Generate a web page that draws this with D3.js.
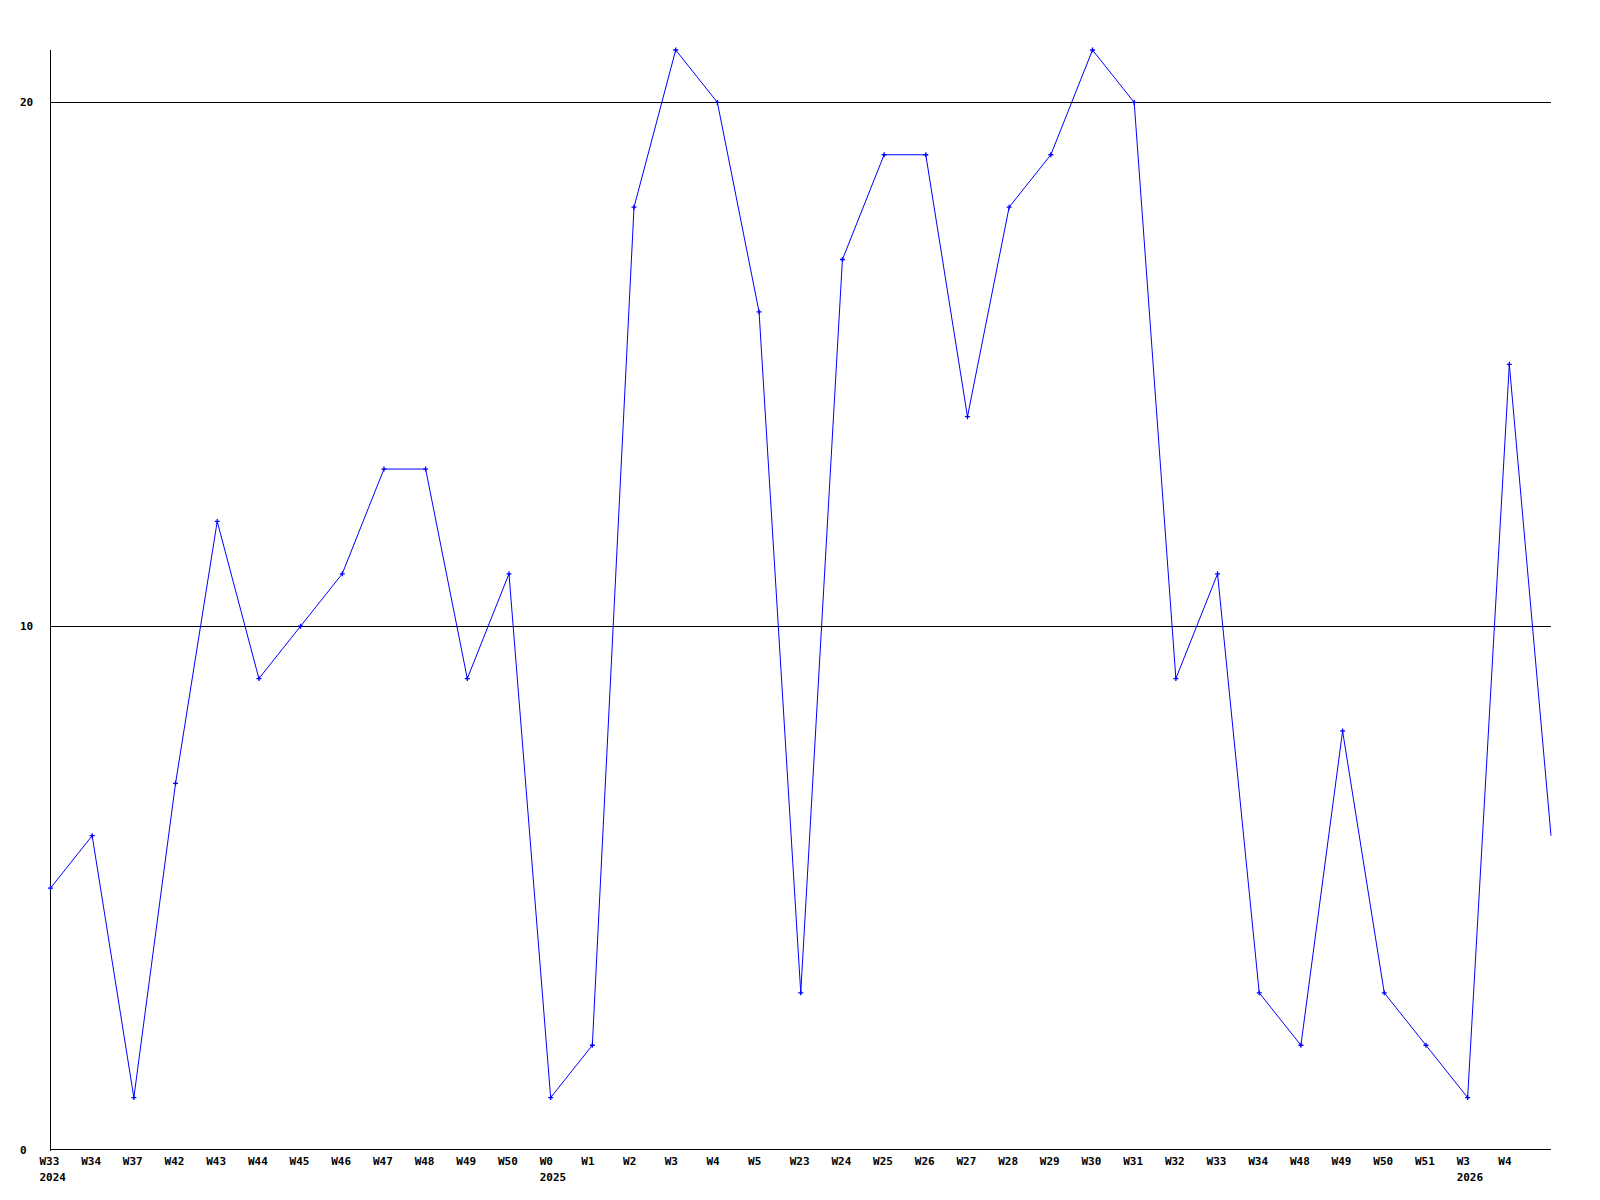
<!DOCTYPE html>
<html>
<head>
<meta charset="utf-8">
<script src="https://cdn.jsdelivr.net/npm/d3@7"></script>
<style>
  body { margin: 0; background: #fff; }
  svg text { font-family: "DejaVu Sans Mono", monospace; font-weight: bold; font-size: 11px; fill: #000; }
</style>
</head>
<body>
<div id="chart"></div>
<script>
// week labels along x (last point has no label)
const weeks = ["W33","W34","W37","W42","W43","W44","W45","W46","W47","W48","W49","W50",
               "W0","W1","W2","W3","W4","W5","W23","W24","W25","W26","W27","W28","W29","W30",
               "W31","W32","W33","W34","W48","W49","W50","W51","W3","W4",""];
// year shown under the first week of each year
const years = ["2024","","","","","","","","","","","",
               "2025","","","","","","","","","","","","","",
               "","","","","","","","","2026","",""];
const counts = [5,6,1,7,12,9,10,11,13,13,9,11,
                1,2,18,21,20,16,3,17,19,19,14,18,19,21,
                20,9,11,3,2,8,3,2,1,15,6];
const yTicks = [0, 10, 20];

const chartW = 1600, chartH = 1200;
const plotLeft = 50.5, plotRight = 1551, plotTop = 50, plotBottom = 1150;

const svg = d3.select("#chart").append("svg")
    .attr("width", chartW)
    .attr("height", chartH);

let x = d3.scaleLinear().domain([0, counts.length - 1]).range([plotLeft, plotRight]);
let y = d3.scaleLinear().domain([0, 21]).range([plotBottom, plotTop]);

// grid lines at 10 and 20
svg.selectAll(".grid")
    .data(yTicks.filter(d => d > 0))
    .enter().append("line")
    .attr("x1", plotLeft).attr("x2", plotRight)
    .attr("y1", d => Math.round(y(d)) + 0.5)
    .attr("y2", d => Math.round(y(d)) + 0.5)
    .attr("stroke", "#000")
    .attr("shape-rendering", "crispEdges");

// axes
svg.append("line")
    .attr("x1", plotLeft).attr("x2", plotLeft)
    .attr("y1", plotTop).attr("y2", plotBottom + 0.5)
    .attr("stroke", "#000")
    .attr("shape-rendering", "crispEdges");
svg.append("line")
    .attr("x1", plotLeft).attr("x2", plotRight)
    .attr("y1", plotBottom - 0.5).attr("y2", plotBottom - 0.5)
    .attr("stroke", "#000")
    .attr("shape-rendering", "crispEdges");

// y labels
svg.selectAll(".ylab")
    .data(yTicks)
    .enter().append("text")
    .attr("x", 20)
    .attr("y", d => y(d) + 4)
    .text(d => d);

// x labels
svg.selectAll(".xlab")
    .data(weeks)
    .enter().append("text")
    .attr("x", (d, i) => x(i) - 11)
    .attr("y", 1165)
    .text(d => d);

svg.selectAll(".yearlab")
    .data(years)
    .enter().append("text")
    .attr("x", (d, i) => x(i) - 11)
    .attr("y", 1181)
    .text(d => d);

// the series line
let line = d3.line()
    .x((d, i) => x(i))
    .y(d => y(d));

svg.append("path")
    .datum(counts)
    .attr("d", line)
    .attr("fill", "none")
    .attr("stroke", "#0000ff")
    .attr("stroke-width", 1);

// small plus markers, not on the last point
let marks = svg.selectAll(".mark")
    .data(counts.slice(0, weeks.length - 1))
    .enter().append("g")
    .attr("transform", (d, i) => `translate(${x(i)},${y(d)})`);
marks.append("path")
    .attr("d", "M-2.5,0H2.5M0,-2.5V2.5")
    .attr("stroke", "#0000ff")
    .attr("stroke-width", 1.3);
</script>
</body>
</html>
